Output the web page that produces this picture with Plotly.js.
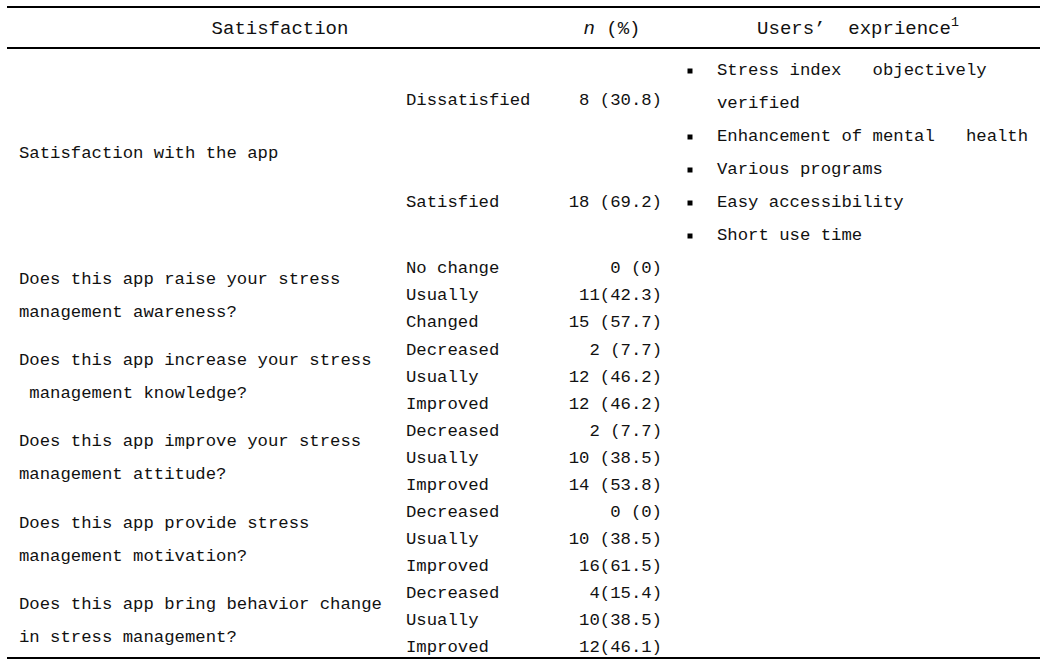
<!DOCTYPE html>
<html>
<head>
<meta charset="utf-8">
<script src="https://cdn.plot.ly/plotly-3.0.1.min.js"></script>
<style>html,body{margin:0;padding:0;background:#fff;}#chart{width:1060px;height:671px;}</style>
</head>
<body>
<div id="chart"></div>
<script>
// ---- data ----
const headers = ['Satisfaction', '<i>n</i> (%)', 'Users’  exprience<sup>1</sup>'];
const satLabel = 'Satisfaction with the app';
const satCategories = ['Dissatisfied', 'Satisfied'];
const satCounts = [8, 18];
const satPcts = [30.8, 69.2];
const experience = ['Stress index   objectively<br>verified', 'Enhancement of mental   health', 'Various programs', 'Easy accessibility', 'Short use time'];
const questions = [
  'Does this app raise your stress<br>management awareness?',
  'Does this app increase your stress<br> management knowledge?',
  'Does this app improve your stress<br>management attitude?',
  'Does this app provide stress<br>management motivation?',
  'Does this app bring behavior change<br>in stress management?'
];
const responseLabels = [
  ['No change', 'Usually', 'Changed'],
  ['Decreased', 'Usually', 'Improved'],
  ['Decreased', 'Usually', 'Improved'],
  ['Decreased', 'Usually', 'Improved'],
  ['Decreased', 'Usually', 'Improved']
];
const responseCounts = [[0, 11, 15], [2, 12, 12], [2, 10, 14], [0, 10, 16], [4, 10, 12]];
const responsePcts = [[0, 42.3, 57.7], [7.7, 46.2, 46.2], [7.7, 38.5, 53.8], [0, 38.5, 61.5], [15.4, 38.5, 46.1]];
const responseSep = [[' ', '', ' '], [' ', ' ', ' '], [' ', ' ', ' '], [' ', ' ', ''], ['', '', '']];

// ---- layout helpers ----
const NB = s => s.replace(/ /g, '\u00a0');
const FONT = 'Liberation Mono, DejaVu Sans Mono, monospace';
const COL = '#111';
const body = {family: FONT, size: 17.3, color: COL};
const head = {family: FONT, size: 19, color: COL};
const fmt = (n, p, sep) => n + sep + '(' + p + ')';

const traces = [];
function textTrace(xs, ys, texts, pos, font) {
  traces.push({type: 'scatter', mode: 'text', x: xs, y: ys, text: texts.map(NB),
    textposition: pos, textfont: font, hoverinfo: 'skip', showlegend: false, cliponaxis: false});
}

// header
textTrace([280, 612, 858], [29, 29, 29], headers, 'middle center', head);

// satisfaction block
textTrace([19], [154], [satLabel], 'middle right', body);
const satY = [101, 203];
textTrace(satY.map(() => 406), satY, satCategories, 'middle right', body);
textTrace(satY.map(() => 662), satY, satCounts.map((n, i) => fmt(n, satPcts[i], ' ')), 'middle left', body);

// experience bullets
const bx = [], by = [], tx = [], ty = [], tt = [];
let line = 0;
experience.forEach(item => {
  item.split('<br>').forEach((ln, k) => {
    const y = 71 + line * 33;
    if (k === 0) { bx.push(690); by.push(y); }
    tx.push(717); ty.push(y); tt.push(ln);
    line++;
  });
});
traces.push({type: 'scatter', mode: 'markers', x: bx, y: by, marker: {symbol: 'square', size: 5, color: '#000'}, hoverinfo: 'skip', showlegend: false, cliponaxis: false});
textTrace(tx, ty, tt, 'middle right', body);

// question blocks
const rowY = i => 269 + i * 27.07;
const qx = [], qy = [], qt = [];
const lx = [], ly = [], lt = [];
const vx = [], vy = [], vt = [];
questions.forEach((q, qi) => {
  const mid = rowY(qi * 3 + 1);
  q.split('<br>').forEach((ln, k) => { qx.push(19); qy.push(mid + (k === 0 ? -16.5 : 16.5)); qt.push(ln); });
  responseLabels[qi].forEach((lab, r) => {
    const y = rowY(qi * 3 + r);
    lx.push(406); ly.push(y); lt.push(lab);
    vx.push(662); vy.push(y); vt.push(fmt(responseCounts[qi][r], responsePcts[qi][r], responseSep[qi][r]));
  });
});
textTrace(qx, qy, qt, 'middle right', body);
textTrace(lx, ly, lt, 'middle right', body);
textTrace(vx, vy, vt, 'middle left', body);

const rule = y => ({type: 'line', xref: 'x', yref: 'y', x0: 7, x1: 1040, y0: y, y1: y, line: {color: '#000', width: 2}});

const layout = {
  width: 1060, height: 671,
  margin: {l: 0, r: 0, t: 0, b: 0},
  paper_bgcolor: '#fff', plot_bgcolor: '#fff',
  xaxis: {range: [0, 1060], visible: false, fixedrange: true},
  yaxis: {range: [671, 0], visible: false, fixedrange: true},
  shapes: [rule(7), rule(48), rule(658)],
  showlegend: false
};
Plotly.newPlot('chart', traces, layout, {displayModeBar: false, staticPlot: true});
</script>
</body>
</html>
